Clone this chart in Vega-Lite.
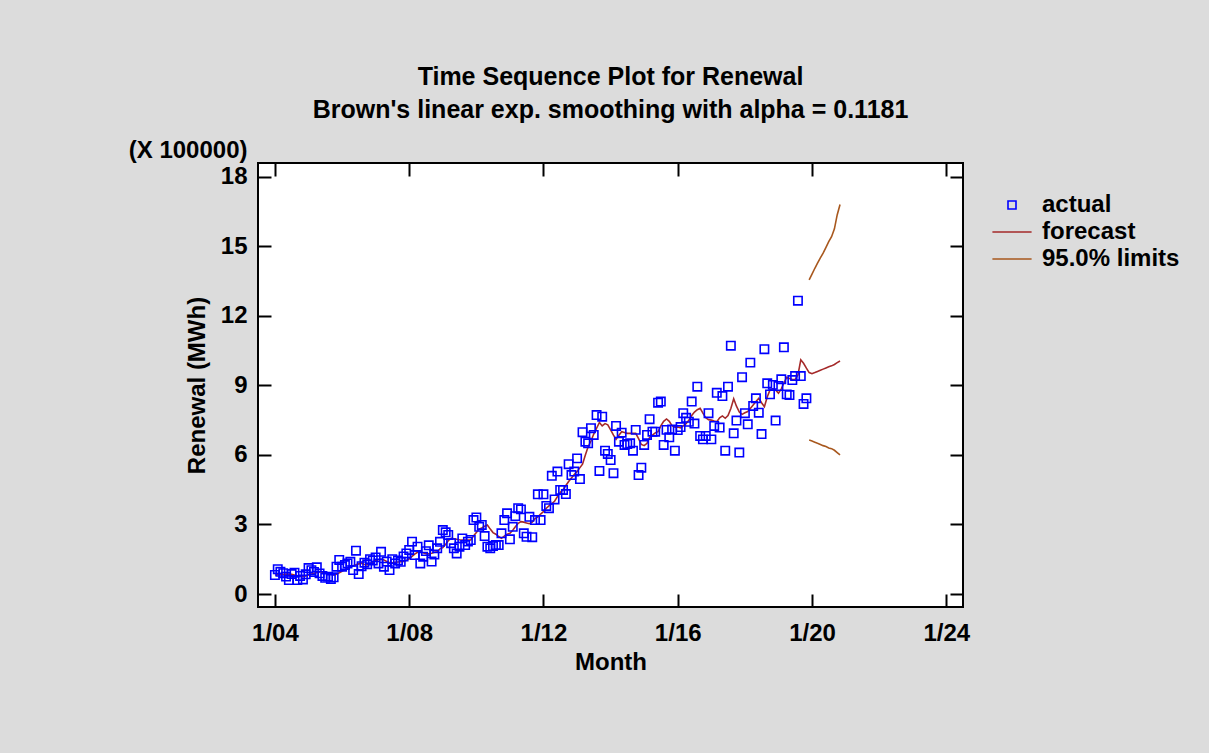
{
  "$schema": "https://vega.github.io/schema/vega-lite/v6.json",
  "width": 705,
  "height": 444,
  "autosize": "none",
  "padding": {"left": 258, "top": 163, "right": 246, "bottom": 146},
  "background": "#dcdcdc",
  "config": {
    "font": "Liberation Sans",
    "view": {"fill": "white", "stroke": "black", "strokeWidth": 2},
    "axis": {"grid": false, "domain": false, "tickColor": "black", "tickWidth": 2, "tickSize": -13, "labelColor": "black", "labelFontSize": 24, "labelFontWeight": "bold", "labelFont": "Liberation Sans", "titleColor": "black", "titleFontSize": 24, "titleFontWeight": "bold", "titleFont": "Liberation Sans"},
    "legend": {"labelFontSize": 24, "labelFontWeight": "bold", "labelColor": "black", "labelFont": "Liberation Sans"}
  },
  "title": {"text": ["Time Sequence Plot for Renewal", "Brown's linear exp. smoothing with alpha = 0.1181"], "fontSize": 25, "fontWeight": "bold", "font": "Liberation Sans", "color": "black", "lineHeight": 33, "anchor": "middle", "frame": "group", "offset": 15},
  "datasets": {
    "main": [
      {"d":"2004-01","a":0.82,"f":0.82},{"d":"2004-02","a":1.07,"f":0.83},{"d":"2004-03","a":0.96,"f":0.84},{"d":"2004-04","a":0.90,"f":0.85},{"d":"2004-05","a":0.75,"f":0.86},{"d":"2004-06","a":0.60,"f":0.86},{"d":"2004-07","a":0.86,"f":0.85},{"d":"2004-08","a":0.92,"f":0.82},{"d":"2004-09","a":0.60,"f":0.79},{"d":"2004-10","a":0.78,"f":0.77},{"d":"2004-11","a":0.63,"f":0.75},{"d":"2004-12","a":0.85,"f":0.78},
      {"d":"2005-01","a":1.12,"f":0.82},{"d":"2005-02","a":1.03,"f":0.86},{"d":"2005-03","a":0.95,"f":0.90},{"d":"2005-04","a":1.15,"f":0.93},{"d":"2005-05","a":0.89,"f":0.96},{"d":"2005-06","a":0.78,"f":0.94},{"d":"2005-07","a":0.70,"f":0.91},{"d":"2005-08","a":0.75,"f":0.88},{"d":"2005-09","a":0.65,"f":0.85},{"d":"2005-10","a":0.72,"f":0.82},{"d":"2005-11","a":1.18,"f":0.85},{"d":"2005-12","a":1.47,"f":0.92},
      {"d":"2006-01","a":1.18,"f":0.98},{"d":"2006-02","a":1.25,"f":1.05},{"d":"2006-03","a":1.32,"f":1.12},{"d":"2006-04","a":1.39,"f":1.18},{"d":"2006-05","a":1.03,"f":1.22},{"d":"2006-06","a":1.87,"f":1.26},{"d":"2006-07","a":0.86,"f":1.30},{"d":"2006-08","a":1.20,"f":1.33},{"d":"2006-09","a":1.35,"f":1.27},{"d":"2006-10","a":1.28,"f":1.25},{"d":"2006-11","a":1.50,"f":1.32},{"d":"2006-12","a":1.45,"f":1.38},
      {"d":"2007-01","a":1.58,"f":1.45},{"d":"2007-02","a":1.32,"f":1.48},{"d":"2007-03","a":1.82,"f":1.50},{"d":"2007-04","a":1.18,"f":1.47},{"d":"2007-05","a":1.40,"f":1.40},{"d":"2007-06","a":1.03,"f":1.36},{"d":"2007-07","a":1.50,"f":1.35},{"d":"2007-08","a":1.32,"f":1.37},{"d":"2007-09","a":1.45,"f":1.38},{"d":"2007-10","a":1.39,"f":1.39},{"d":"2007-11","a":1.62,"f":1.40},{"d":"2007-12","a":1.75,"f":1.45},
      {"d":"2008-01","a":1.90,"f":1.52},{"d":"2008-02","a":2.26,"f":1.62},{"d":"2008-03","a":1.68,"f":1.72},{"d":"2008-04","a":2.04,"f":1.80},{"d":"2008-05","a":1.32,"f":1.82},{"d":"2008-06","a":1.61,"f":1.78},{"d":"2008-07","a":1.85,"f":1.74},{"d":"2008-08","a":2.10,"f":1.73},{"d":"2008-09","a":1.40,"f":1.76},{"d":"2008-10","a":1.70,"f":1.80},{"d":"2008-11","a":1.97,"f":1.82},{"d":"2008-12","a":2.25,"f":1.95},
      {"d":"2009-01","a":2.76,"f":2.00},{"d":"2009-02","a":2.66,"f":2.15},{"d":"2009-03","a":2.55,"f":2.30},{"d":"2009-04","a":2.19,"f":2.40},{"d":"2009-05","a":1.97,"f":2.38},{"d":"2009-06","a":1.75,"f":2.36},{"d":"2009-07","a":2.04,"f":2.34},{"d":"2009-08","a":2.40,"f":2.33},{"d":"2009-09","a":2.11,"f":2.33},{"d":"2009-10","a":2.26,"f":2.33},{"d":"2009-11","a":2.33,"f":2.33},{"d":"2009-12","a":3.19,"f":2.50},
      {"d":"2010-01","a":3.30,"f":2.65},{"d":"2010-02","a":2.90,"f":2.80},{"d":"2010-03","a":2.98,"f":2.85},{"d":"2010-04","a":2.50,"f":2.92},{"d":"2010-05","a":2.04,"f":2.98},{"d":"2010-06","a":1.97,"f":2.80},{"d":"2010-07","a":2.07,"f":2.65},{"d":"2010-08","a":2.11,"f":2.58},{"d":"2010-09","a":2.11,"f":2.48},{"d":"2010-10","a":2.62,"f":2.40},{"d":"2010-11","a":3.19,"f":2.50},{"d":"2010-12","a":3.48,"f":2.58},
      {"d":"2011-01","a":2.36,"f":2.62},{"d":"2011-02","a":2.90,"f":2.75},{"d":"2011-03","a":3.36,"f":2.90},{"d":"2011-04","a":3.70,"f":3.05},{"d":"2011-05","a":3.65,"f":3.12},{"d":"2011-06","a":2.62,"f":3.10},{"d":"2011-07","a":2.47,"f":3.06},{"d":"2011-08","a":3.33,"f":3.03},{"d":"2011-09","a":2.45,"f":3.10},{"d":"2011-10","a":3.19,"f":3.25},{"d":"2011-11","a":4.30,"f":3.33},{"d":"2011-12","a":3.19,"f":3.45},
      {"d":"2012-01","a":4.30,"f":3.55},{"d":"2012-02","a":3.80,"f":3.70},{"d":"2012-03","a":3.70,"f":3.80},{"d":"2012-04","a":5.10,"f":3.90},{"d":"2012-05","a":4.08,"f":4.00},{"d":"2012-06","a":5.28,"f":4.20},{"d":"2012-07","a":4.49,"f":4.38},{"d":"2012-08","a":4.49,"f":4.50},{"d":"2012-09","a":4.31,"f":4.68},{"d":"2012-10","a":5.60,"f":4.85},{"d":"2012-11","a":5.13,"f":5.00},{"d":"2012-12","a":5.28,"f":5.15},
      {"d":"2013-01","a":5.85,"f":5.28},{"d":"2013-02","a":4.96,"f":5.45},{"d":"2013-03","a":6.98,"f":5.60},{"d":"2013-04","a":6.57,"f":6.00},{"d":"2013-05","a":6.50,"f":6.35},{"d":"2013-06","a":7.15,"f":6.60},{"d":"2013-07","a":6.86,"f":6.90},{"d":"2013-08","a":7.72,"f":7.15},{"d":"2013-09","a":5.31,"f":7.40},{"d":"2013-10","a":7.65,"f":7.25},{"d":"2013-11","a":6.18,"f":7.35},{"d":"2013-12","a":6.04,"f":7.30},
      {"d":"2014-01","a":5.78,"f":7.08},{"d":"2014-02","a":5.21,"f":6.85},{"d":"2014-03","a":7.25,"f":6.67},{"d":"2014-04","a":6.57,"f":6.85},{"d":"2014-05","a":6.96,"f":7.00},{"d":"2014-06","a":6.43,"f":6.97},{"d":"2014-07","a":6.47,"f":6.93},{"d":"2014-08","a":6.50,"f":6.93},{"d":"2014-09","a":6.18,"f":6.93},{"d":"2014-10","a":7.08,"f":6.93},{"d":"2014-11","a":5.13,"f":6.70},{"d":"2014-12","a":5.45,"f":6.45},
      {"d":"2015-01","a":6.43,"f":6.40},{"d":"2015-02","a":6.86,"f":6.50},{"d":"2015-03","a":7.54,"f":6.75},{"d":"2015-04","a":7.00,"f":6.85},{"d":"2015-05","a":7.00,"f":6.95},{"d":"2015-06","a":8.25,"f":7.00},{"d":"2015-07","a":8.30,"f":7.25},{"d":"2015-08","a":6.43,"f":7.45},{"d":"2015-09","a":7.08,"f":7.55},{"d":"2015-10","a":6.76,"f":7.45},{"d":"2015-11","a":7.10,"f":7.25},{"d":"2015-12","a":6.18,"f":7.20},
      {"d":"2016-01","a":7.07,"f":7.20},{"d":"2016-02","a":7.20,"f":7.17},{"d":"2016-03","a":7.80,"f":7.25},{"d":"2016-04","a":7.60,"f":7.35},{"d":"2016-05","a":7.43,"f":7.50},{"d":"2016-06","a":8.30,"f":7.70},{"d":"2016-07","a":7.35,"f":7.85},{"d":"2016-08","a":8.94,"f":7.95},{"d":"2016-09","a":6.82,"f":8.01},{"d":"2016-10","a":6.67,"f":7.80},{"d":"2016-11","a":6.82,"f":7.60},{"d":"2016-12","a":7.80,"f":7.52},
      {"d":"2017-01","a":6.67,"f":7.50},{"d":"2017-02","a":7.25,"f":7.46},{"d":"2017-03","a":8.68,"f":7.43},{"d":"2017-04","a":7.18,"f":7.60},{"d":"2017-05","a":8.54,"f":7.68},{"d":"2017-06","a":6.18,"f":7.58},{"d":"2017-07","a":8.94,"f":7.70},{"d":"2017-08","a":10.71,"f":8.00},{"d":"2017-09","a":6.93,"f":8.42},{"d":"2017-10","a":7.48,"f":8.10},{"d":"2017-11","a":6.10,"f":7.85},{"d":"2017-12","a":9.35,"f":7.75},
      {"d":"2018-01","a":7.80,"f":7.82},{"d":"2018-02","a":7.32,"f":7.87},{"d":"2018-03","a":9.98,"f":8.00},{"d":"2018-04","a":8.11,"f":8.15},{"d":"2018-05","a":8.44,"f":8.30},{"d":"2018-06","a":7.82,"f":8.44},{"d":"2018-07","a":6.90,"f":8.25},{"d":"2018-08","a":10.56,"f":8.08},{"d":"2018-09","a":9.09,"f":8.50},{"d":"2018-10","a":8.61,"f":8.80},{"d":"2018-11","a":9.02,"f":8.85},{"d":"2018-12","a":7.48,"f":8.80},
      {"d":"2019-01","a":8.97,"f":8.66},{"d":"2019-02","a":9.26,"f":8.85},{"d":"2019-03","a":10.64,"f":9.10},{"d":"2019-04","a":8.61,"f":9.35},{"d":"2019-05","a":8.58,"f":9.30},{"d":"2019-06","a":9.23,"f":9.25},{"d":"2019-07","a":9.40,"f":9.25},{"d":"2019-08","a":12.65,"f":9.45},{"d":"2019-09","a":9.40,"f":10.10},{"d":"2019-10","a":8.20,"f":9.95},{"d":"2019-11","a":8.44,"f":9.74},
      {"d":"2019-12","f":9.55},{"d":"2020-01","f":9.50},{"d":"2020-02","f":9.55},{"d":"2020-03","f":9.60},{"d":"2020-04","f":9.65},{"d":"2020-05","f":9.70},{"d":"2020-06","f":9.75},{"d":"2020-07","f":9.80},{"d":"2020-08","f":9.84},{"d":"2020-09","f":9.90},{"d":"2020-10","f":9.98},{"d":"2020-11","f":10.05}
    ],
    "lim": [
      {"d":"2019-12","lo":6.64,"hi":13.55},{"d":"2020-01","lo":6.60,"hi":13.80},{"d":"2020-02","lo":6.55,"hi":14.05},{"d":"2020-03","lo":6.50,"hi":14.27},{"d":"2020-04","lo":6.45,"hi":14.50},{"d":"2020-05","lo":6.40,"hi":14.70},{"d":"2020-06","lo":6.36,"hi":14.95},{"d":"2020-07","lo":6.30,"hi":15.20},{"d":"2020-08","lo":6.27,"hi":15.41},{"d":"2020-09","lo":6.20,"hi":15.75},{"d":"2020-10","lo":6.10,"hi":16.35},{"d":"2020-11","lo":6.00,"hi":16.80}
    ]
  },
  "layer": [
    {
      "data": {"name": "lim"},
      "transform": [{"fold": ["lo", "hi"], "as": ["k", "v"]}, {"calculate": "'95.0% limits'", "as": "s"}],
      "mark": {"type": "line", "strokeWidth": 1.6},
      "encoding": {
        "x": {"field": "d", "type": "temporal", "scale": {"type": "utc", "domain": [{"year": 2003, "month": 7, "date": 1, "utc": true}, {"year": 2024, "month": 7, "date": 1, "utc": true}]}, "axis": null},
        "y": {"field": "v", "type": "quantitative", "scale": {"domain": [-0.56, 18.59], "nice": false, "zero": false}, "axis": null},
        "detail": {"field": "k"},
        "color": {"field": "s", "type": "nominal", "scale": {"domain": ["actual", "forecast", "95.0% limits"], "range": ["#0000ff", "#a52a2a", "#a8581e"]}, "legend": {"orient": "none", "legendX": 742, "legendY": 30, "title": null, "symbolSize": 64, "symbolStrokeWidth": 1.6, "labelOffset": 18, "rowPadding": 3, "padding": 0}}
      }
    },
    {
      "data": {"name": "main"},
      "transform": [{"calculate": "'forecast'", "as": "s"}],
      "mark": {"type": "line", "strokeWidth": 1.6},
      "encoding": {
        "x": {"field": "d", "type": "temporal", "scale": {"type": "utc", "domain": [{"year": 2003, "month": 7, "date": 1, "utc": true}, {"year": 2024, "month": 7, "date": 1, "utc": true}]}, "axis": {"orient": "top", "labels": false, "values": [{"year": 2004, "month": 1, "date": 1, "utc": true}, {"year": 2008, "month": 1, "date": 1, "utc": true}, {"year": 2012, "month": 1, "date": 1, "utc": true}, {"year": 2016, "month": 1, "date": 1, "utc": true}, {"year": 2020, "month": 1, "date": 1, "utc": true}, {"year": 2024, "month": 1, "date": 1, "utc": true}], "title": "(X 100000)", "titleX": -11, "titleY": -6, "titleAlign": "right", "titleAnchor": null, "titleBaseline": "alphabetic", "titleAngle": 0}},
        "y": {"field": "f", "type": "quantitative", "scale": {"domain": [-0.56, 18.59], "nice": false, "zero": false}, "axis": {"orient": "right", "labels": false, "values": [0, 3, 6, 9, 12, 15, 18], "title": null}},
        "color": {"field": "s", "type": "nominal", "scale": {"domain": ["actual", "forecast", "95.0% limits"], "range": ["#0000ff", "#a52a2a", "#a8581e"]}, "legend": {"orient": "none", "legendX": 742, "legendY": 30, "title": null, "symbolSize": 64, "symbolStrokeWidth": 1.6, "labelOffset": 18, "rowPadding": 3, "padding": 0}}
      }
    },
    {
      "data": {"name": "main"},
      "transform": [{"filter": "isValid(datum.a)"}, {"calculate": "'actual'", "as": "s"}],
      "mark": {"type": "point", "filled": false, "strokeWidth": 1.6, "size": 70, "opacity": 1},
      "encoding": {
        "x": {"field": "d", "type": "temporal", "scale": {"type": "utc", "domain": [{"year": 2003, "month": 7, "date": 1, "utc": true}, {"year": 2024, "month": 7, "date": 1, "utc": true}]}, "axis": {"orient": "bottom", "format": "%-m/%y", "values": [{"year": 2004, "month": 1, "date": 1, "utc": true}, {"year": 2008, "month": 1, "date": 1, "utc": true}, {"year": 2012, "month": 1, "date": 1, "utc": true}, {"year": 2016, "month": 1, "date": 1, "utc": true}, {"year": 2020, "month": 1, "date": 1, "utc": true}, {"year": 2024, "month": 1, "date": 1, "utc": true}], "labelPadding": 27, "title": "Month", "titlePadding": 5}},
        "y": {"field": "a", "type": "quantitative", "scale": {"domain": [-0.56, 18.59], "nice": false, "zero": false}, "axis": {"orient": "left", "values": [0, 3, 6, 9, 12, 15, 18], "labelPadding": 24, "title": "Renewal (MWh)", "titlePadding": 11}},
        "color": {"field": "s", "type": "nominal", "scale": {"domain": ["actual", "forecast", "95.0% limits"], "range": ["#0000ff", "#a52a2a", "#a8581e"]}, "legend": {"orient": "none", "legendX": 742, "legendY": 30, "title": null, "symbolSize": 64, "symbolStrokeWidth": 1.6, "labelOffset": 18, "rowPadding": 3, "padding": 0}},
        "shape": {"field": "s", "type": "nominal", "scale": {"domain": ["actual", "forecast", "95.0% limits"], "range": ["square", "M-4.9,0H4.9", "M-4.9,0H4.9"]}, "legend": {"orient": "none", "legendX": 742, "legendY": 30, "title": null, "symbolSize": 64, "symbolStrokeWidth": 1.6, "labelOffset": 18, "rowPadding": 3, "padding": 0}}
      }
    }
  ],
  "resolve": {"axis": {"x": "independent", "y": "independent"}}
}
